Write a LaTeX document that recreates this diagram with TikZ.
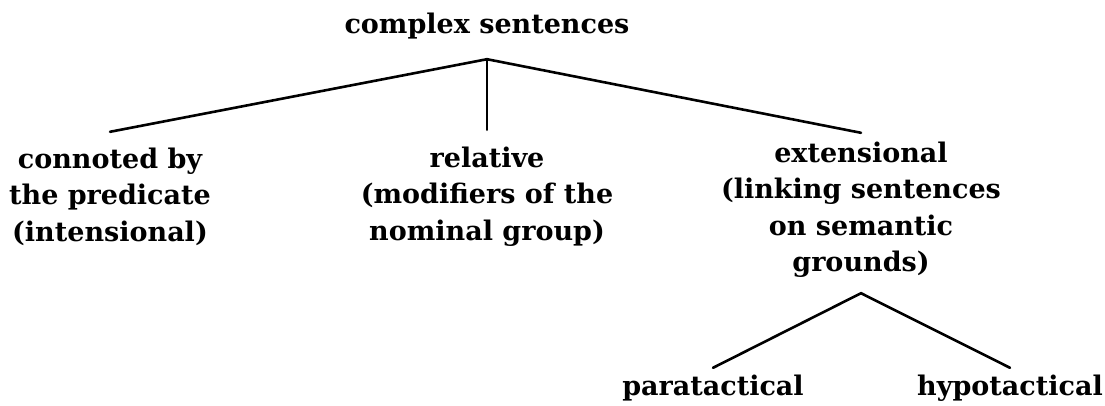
\documentclass[tikz,border=0pt]{standalone}
\usepackage{fontspec}
\setmainfont{DejaVu Serif}
\begin{document}
\begin{tikzpicture}[x=1pt,y=-1pt,
  lbl/.style={align=center,inner sep=0pt,font=\fontsize{27}{36.5}\selectfont\bfseries},
  edge/.style={line width=2.6pt,line cap=round}]
\useasboundingbox (0,0) rectangle (1105,405);
\node[lbl,anchor=base,text depth=26pt] (root) at (487,33) {complex sentences};
\node[lbl,anchor=base,text height=109pt] (c1) at (110,241) {connoted by\\the predicate\\(intensional)};
\node[lbl,anchor=base,text height=110pt] (c2) at (487,240) {relative\\(modifiers of the\\nominal group)};
\node[lbl,anchor=base,text height=138.5pt,text depth=21.5pt] (c3) at (861,271.5) {extensional\\(linking sentences\\on semantic\\grounds)};
\node[lbl,anchor=base,text height=27pt] (l1) at (713,395) {paratactical};
\node[lbl,anchor=base,text height=27pt] (l2) at (1010,395) {hypotactical};
\draw[edge] (c1.north) -- (root.south) -- (c3.north);
\draw[edge] (root.south) -- (c2.north);
\draw[edge] (l1.north) -- (c3.south) -- (l2.north);
\end{tikzpicture}
\end{document}
